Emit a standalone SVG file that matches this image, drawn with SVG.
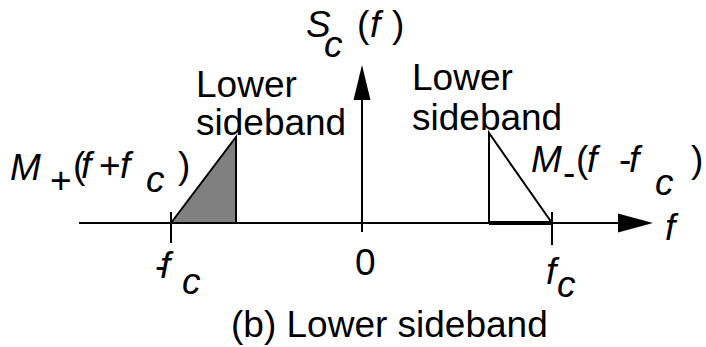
<svg xmlns="http://www.w3.org/2000/svg" width="706" height="347" viewBox="0 0 706 347">
<style>
text{font-family:"Liberation Sans",Arial,sans-serif;font-size:37px;fill:#000}
.i{font-style:italic}
.ln{stroke:#000;stroke-width:2;fill:none}
</style>
<rect width="706" height="347" fill="#fff"/>
<g id="connectors">
<line class="ln" x1="79" y1="223" x2="622" y2="223"/>
<polygon points="618,213.5 653,223 618,232.5" fill="#000"/>
<line class="ln" x1="362" y1="232" x2="362" y2="98"/>
<polygon points="353.5,100 362,65 370.5,100" fill="#000"/>
<line class="ln" x1="171" y1="212" x2="171" y2="243"/>
<line class="ln" x1="552" y1="212" x2="552" y2="245"/>
</g>
<g id="upper-left">
<polygon points="171,223 236,137 236,223" fill="#808080" stroke="#000" stroke-width="2"/>
</g>
<g id="lower-right">
<polyline class="ln" points="489,223 489,133 552,223"/>
<line x1="489" y1="223" x2="552" y2="223" stroke="#000" stroke-width="4"/>
</g>
<g id="labels">
<text x="196" y="97">Lower</text>
<text x="196" y="135">sideband</text>
<text x="412" y="90">Lower</text>
<text x="412" y="130">sideband</text>
<text class="i" x="306" y="37" font-size="34">S</text>
<text class="i" x="324" y="57" font-size="34">c</text>
<text x="357" y="37" font-size="34">(</text>
<text class="i" x="370" y="37" font-size="34">f</text>
<text x="392" y="37" font-size="34">)</text>
<text class="i" x="10" y="180">M</text>
<text x="50" y="193">+</text>
<text x="73" y="178">(</text>
<text class="i" x="81" y="178">f</text>
<text x="99" y="178">+</text>
<text class="i" x="120" y="178">f</text>
<text class="i" x="146" y="192">c</text>
<text x="178" y="178">)</text>
<text class="i" x="531" y="172">M</text>
<text x="563" y="185">-</text>
<text x="576" y="172">(</text>
<text class="i" x="587" y="172">f</text>
<text x="619" y="172">-</text>
<text class="i" x="629" y="172">f</text>
<text class="i" x="655" y="195">c</text>
<text x="691" y="172">)</text>
<text class="i" x="665" y="240">f</text>
<text x="155" y="278">-</text>
<text class="i" x="160" y="278">f</text>
<text class="i" x="182" y="294">c</text>
<text x="355" y="275">0</text>
<text class="i" x="546" y="284">f</text>
<text class="i" x="557" y="297">c</text>
<text x="231" y="337">(b) Lower sideband</text>
</g>
</svg>
